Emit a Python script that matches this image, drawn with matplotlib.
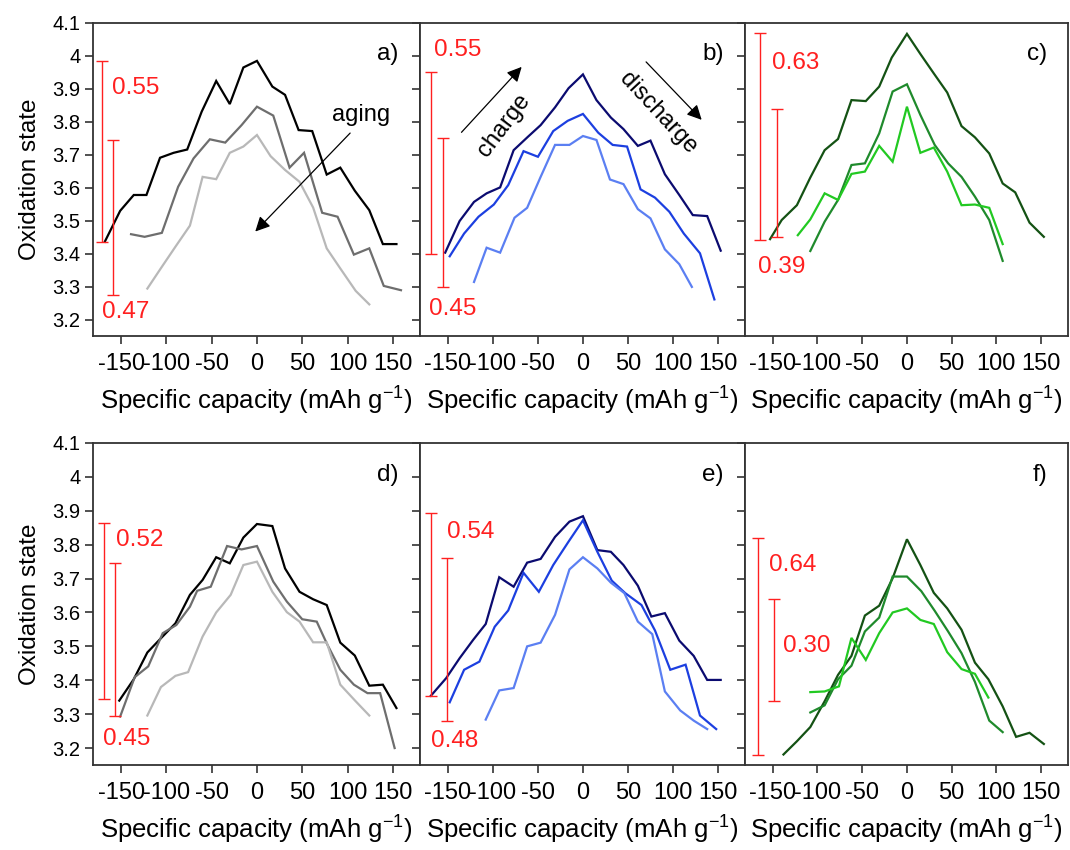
import matplotlib
matplotlib.use("Agg")
import matplotlib.pyplot as plt

plt.rcParams['font.family'] = ['Liberation Sans', 'DejaVu Sans']

# ---- panel a: aging, gray series ----
a1_x = [-168, -151, -136, -122, -107, -92, -77, -61, -45, -30, -15, 0, 17, 31, 46, 61, 77, 92, 108, 124, 139, 154]
a1_y = [3.436, 3.530, 3.578, 3.578, 3.691, 3.706, 3.716, 3.831, 3.924, 3.854, 3.965, 3.985,
        3.907, 3.882, 3.775, 3.772, 3.640, 3.661, 3.591, 3.532, 3.429, 3.429]
a2_x = [-139, -124, -105, -87, -70, -52, -35, -17, 0, 18, 36, 52, 72, 89, 107, 124, 140, 159]
a2_y = [3.459, 3.451, 3.463, 3.603, 3.689, 3.747, 3.737, 3.790, 3.846, 3.819, 3.661, 3.706,
        3.524, 3.512, 3.397, 3.416, 3.302, 3.289]
a3_x = [-121, -105, -90, -74, -60, -45, -30, -15, 0, 15, 31, 47, 62, 77, 92, 109, 124]
a3_y = [3.294, 3.360, 3.421, 3.485, 3.633, 3.626, 3.706, 3.725, 3.760, 3.696, 3.654, 3.618,
        3.540, 3.416, 3.355, 3.287, 3.246]

# ---- panel b: blue series ----
b1_x = [-153, -137, -121, -107, -92, -77, -61, -47, -31, -16, 0, 15, 31, 45, 61, 75, 91, 107, 122, 138, 153]
b1_y = [3.403, 3.499, 3.557, 3.583, 3.601, 3.714, 3.755, 3.790, 3.844, 3.902, 3.944, 3.866,
        3.813, 3.778, 3.727, 3.743, 3.641, 3.578, 3.517, 3.514, 3.409]
b2_x = [-148, -132, -116, -99, -83, -66, -50, -33, -17, 0, 17, 33, 49, 64, 80, 96, 112, 130, 146]
b2_y = [3.392, 3.461, 3.512, 3.549, 3.608, 3.711, 3.694, 3.772, 3.803, 3.824, 3.767, 3.730,
        3.725, 3.595, 3.570, 3.527, 3.461, 3.401, 3.261]
b3_x = [-121, -107, -92, -76, -62, -47, -31, -15, 0, 15, 30, 45, 61, 75, 91, 107, 121]
b3_y = [3.314, 3.418, 3.403, 3.509, 3.539, 3.633, 3.730, 3.730, 3.757, 3.745, 3.625, 3.611,
        3.535, 3.507, 3.413, 3.368, 3.299]

# ---- panel c: green series ----
c1_x = [-153, -140, -123, -108, -92, -77, -62, -46, -31, -17, 0, 15, 30, 45, 61, 76, 92, 107, 121, 137, 153]
c1_y = [3.444, 3.502, 3.547, 3.631, 3.714, 3.748, 3.866, 3.863, 3.907, 3.995, 4.067, 4.006,
        3.947, 3.889, 3.787, 3.753, 3.704, 3.613, 3.586, 3.494, 3.451]
c2_x = [-108, -92, -77, -62, -47, -31, -16, 0, 15, 31, 46, 61, 76, 92, 107]
c2_y = [3.408, 3.497, 3.563, 3.669, 3.674, 3.765, 3.892, 3.914, 3.821, 3.730, 3.674, 3.633,
        3.573, 3.502, 3.378]
c3_x = [-122, -108, -92, -77, -62, -47, -31, -16, 0, 15, 30, 45, 61, 76, 92, 107]
c3_y = [3.456, 3.504, 3.583, 3.563, 3.642, 3.649, 3.727, 3.679, 3.846, 3.706, 3.722, 3.649,
        3.547, 3.549, 3.539, 3.429]

# ---- panel d ----
d1_x = [-152, -136, -121, -106, -90, -74, -60, -45, -30, -15, 0, 17, 31, 47, 62, 77, 92, 108, 124, 139, 154]
d1_y = [3.340, 3.403, 3.482, 3.524, 3.568, 3.652, 3.696, 3.763, 3.745, 3.821, 3.861, 3.855,
        3.730, 3.661, 3.639, 3.622, 3.511, 3.473, 3.384, 3.387, 3.318]
d2_x = [-151, -135, -120, -104, -89, -74, -66, -51, -33, -17, 0, 18, 33, 50, 66, 77, 92, 107, 122, 136, 152]
d2_y = [3.293, 3.409, 3.441, 3.539, 3.563, 3.617, 3.664, 3.676, 3.796, 3.786, 3.796, 3.691,
        3.632, 3.580, 3.573, 3.509, 3.431, 3.387, 3.362, 3.362, 3.200]
d3_x = [-121, -106, -90, -76, -60, -45, -29, -15, 0, 17, 33, 47, 62, 77, 92, 109, 124]
d3_y = [3.296, 3.380, 3.413, 3.424, 3.529, 3.600, 3.652, 3.740, 3.750, 3.661, 3.601, 3.573,
        3.512, 3.512, 3.387, 3.338, 3.296]

# ---- panel e ----
e1_x = [-169, -152, -137, -122, -108, -93, -77, -62, -47, -31, -15, 0, 16, 31, 45, 61, 76, 91, 107, 123, 138, 153]
e1_y = [3.354, 3.406, 3.465, 3.519, 3.566, 3.704, 3.676, 3.747, 3.758, 3.823, 3.868, 3.884,
        3.784, 3.779, 3.740, 3.679, 3.588, 3.598, 3.517, 3.472, 3.401, 3.401]
e2_x = [-148, -132, -115, -98, -83, -66, -49, -33, -16, 0, 16, 32, 47, 65, 80, 97, 114, 130, 148]
e2_y = [3.335, 3.431, 3.455, 3.558, 3.606, 3.717, 3.661, 3.740, 3.809, 3.872, 3.779, 3.694,
        3.657, 3.622, 3.547, 3.431, 3.446, 3.296, 3.256]
e3_x = [-108, -93, -77, -62, -47, -31, -15, 0, 16, 31, 46, 61, 77, 91, 108, 123, 138]
e3_y = [3.284, 3.370, 3.377, 3.500, 3.511, 3.593, 3.727, 3.763, 3.730, 3.688, 3.657, 3.573,
        3.536, 3.367, 3.311, 3.281, 3.256]

# ---- panel f ----
f1_x = [-138, -123, -108, -92, -77, -62, -47, -31, -16, 0, 15, 30, 45, 61, 76, 91, 107, 122, 137, 153]
f1_y = [3.181, 3.220, 3.262, 3.338, 3.416, 3.472, 3.591, 3.620, 3.701, 3.816, 3.740, 3.658,
        3.612, 3.549, 3.452, 3.403, 3.323, 3.233, 3.245, 3.212]
f2_x = [-108, -92, -77, -62, -47, -31, -16, 0, 16, 31, 46, 61, 76, 92, 107]
f2_y = [3.305, 3.326, 3.403, 3.443, 3.544, 3.585, 3.706, 3.706, 3.663, 3.605, 3.544, 3.480,
        3.395, 3.281, 3.247]
f3_x = [-108, -92, -76, -62, -46, -31, -16, 0, 15, 30, 45, 61, 76, 91]
f3_y = [3.365, 3.367, 3.382, 3.525, 3.460, 3.539, 3.600, 3.612, 3.578, 3.566, 3.483, 3.433,
        3.419, 3.349]

# oxidation-state swings: (x, bottom, span)
a_bars = [(-171, 3.435, 0.55), (-159, 3.275, 0.47)]
b_bars = [(-169, 3.400, 0.55), (-155, 3.300, 0.45)]
c_bars = [(-164, 3.440, 0.63), (-145, 3.450, 0.39)]
d_bars = [(-169, 3.345, 0.52), (-157, 3.295, 0.45)]
e_bars = [(-169, 3.354, 0.54), (-151, 3.280, 0.48)]
f_bars = [(-166, 3.180, 0.64), (-149, 3.340, 0.30)]

gray_cols = ['#000000', '#6e6e6e', '#b8b8b8']
blue_cols = ['#0b0b70', '#1c3fe0', '#5b7ff2']
green_cols = ['#145214', '#1f8a2c', '#22c922']
red = '#ff2020'

fig = plt.figure(figsize=(10.7, 8.5), dpi=100)

W = 1070.0
H = 850.0
col_edges = [(93, 420), (420, 745), (745, 1068)]
row_edges = [(23, 336), (443, 765)]

panels = [
    ('a)', [(a1_x, a1_y), (a2_x, a2_y), (a3_x, a3_y)], gray_cols, a_bars,
     [(-160, 3.902), (-171, 3.223)]),
    ('b)', [(b1_x, b1_y), (b2_x, b2_y), (b3_x, b3_y)], blue_cols, b_bars,
     [(-165, 4.018), (-171, 3.233)]),
    ('c)', [(c1_x, c1_y), (c2_x, c2_y), (c3_x, c3_y)], green_cols, c_bars,
     [(-151, 3.980), (-167, 3.360)]),
    ('d)', [(d1_x, d1_y), (d2_x, d2_y), (d3_x, d3_y)], gray_cols, d_bars,
     [(-156, 3.815), (-170, 3.227)]),
    ('e)', [(e1_x, e1_y), (e2_x, e2_y), (e3_x, e3_y)], blue_cols, e_bars,
     [(-151, 3.838), (-169, 3.220)]),
    ('f)', [(f1_x, f1_y), (f2_x, f2_y), (f3_x, f3_y)], green_cols, f_bars,
     [(-154, 3.740), (-139, 3.501)]),
]

axes = []
for i, (tag, series, cols, bars, label_pos) in enumerate(panels):
    r, c = divmod(i, 3)
    x0, x1 = col_edges[c]
    top, bot = row_edges[r]
    ax = fig.add_axes([x0 / W, 1 - bot / H, (x1 - x0) / W, (bot - top) / H])
    axes.append(ax)

    for (xs, ys), col in zip(series, cols):
        ax.plot(xs, ys, color=col, lw=1.6, solid_joinstyle='miter')

    # vertical swing bars, each labelled with its own span
    for (bx, lo, span), (tx, ty) in zip(bars, label_pos):
        ax.errorbar([bx], [lo + span / 2], yerr=[[span / 2], [span / 2]], fmt='none',
                    ecolor=red, elinewidth=1.0, capsize=4, capthick=1.0)
        ax.text(tx, ty, f'{span:.2f}', color=red, fontsize=17.5, ha='left', va='center')

    ax.set_xlim(-181, 180)
    ax.set_ylim(3.15, 4.1)
    ax.set_xticks([-150, -100, -50, 0, 50, 100, 150])
    ax.set_xticklabels(['-150', '-100', '-50', '0', '50', '100', '150'])
    ax.set_yticks([3.2, 3.3, 3.4, 3.5, 3.6, 3.7, 3.8, 3.9, 4.0, 4.1])
    ax.tick_params(direction='out', length=6, width=1.2, color='#333333',
                   labelsize=17, pad=6)
    ax.tick_params(axis='y', labelsize=14.5, pad=3)
    for sp in ax.spines.values():
        sp.set_color('#333333')
        sp.set_linewidth(1.3)
    if c == 0:
        ax.set_yticklabels(['3.2', '3.3', '3.4', '3.5', '3.6', '3.7', '3.8', '3.9', '4', '4.1'])
        ax.set_ylabel('Oxidation state', fontsize=17.5, labelpad=8)
    else:
        ax.set_yticklabels([])
    ax.set_xlabel('Specific capacity (mAh g$^{\\mathregular{-1}}$)', fontsize=18.5, labelpad=6)
    ax.text(0.935, 0.90, tag, transform=ax.transAxes, fontsize=17.5,
            ha='right', va='center')

arrow = dict(arrowstyle='-|>', color='black', lw=0.9, mutation_scale=22)
axes[0].annotate('', xy=(-4, 3.461), xytext=(105, 3.772), arrowprops=arrow)
axes[0].text(115, 3.821, 'aging', fontsize=17, ha='center', va='center')
axes[1].annotate('', xy=(-66, 3.973), xytext=(-137, 3.762), arrowprops=arrow)
axes[1].text(-88, 3.79, 'charge', fontsize=17, ha='center', va='center', rotation=53)
axes[1].annotate('', xy=(134, 3.800), xytext=(68, 3.988), arrowprops=arrow)
axes[1].text(83, 3.826, 'discharge', fontsize=17, ha='center', va='center', rotation=-47)

fig.savefig('out.png', dpi=100)
